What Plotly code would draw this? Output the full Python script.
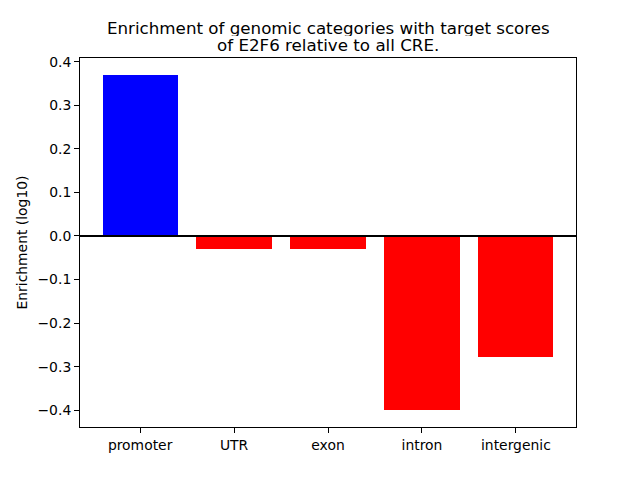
import plotly.graph_objects as go

categories = ["promoter", "UTR", "exon", "intron", "intergenic"]
values = [0.370, -0.029, -0.029, -0.400, -0.277]
colors = ["#0000ff", "#ff0000", "#ff0000", "#ff0000", "#ff0000"]
ytick_vals = [0.4, 0.3, 0.2, 0.1, 0.0, -0.1, -0.2, -0.3, -0.4]
ytick_text = ["0.4", "0.3", "0.2", "0.1", "0.0", "\u22120.1", "\u22120.2", "\u22120.3", "\u22120.4"]
title_lines = ["Enrichment of genomic categories with target scores", "of E2F6 relative to all CRE."]

fig = go.Figure()
fig.add_trace(go.Bar(x=list(range(len(categories))), y=values, marker=dict(color=colors, line=dict(width=0)),
                     width=0.8))
fig.add_hline(y=0, line=dict(color="black", width=2))

title_font = dict(family="DejaVu Sans", size=16.7, color="black")
for line, ypos in zip(title_lines, [1.0828, 1.0354]):
    fig.add_annotation(text=line, x=0.5, y=ypos, xref="paper", yref="paper",
                       xanchor="center", yanchor="middle", showarrow=False, font=title_font,
                       height=17, valign="middle", borderpad=0)

# page body has an 8px offset; margins compensate
font = dict(family="DejaVu Sans", size=13.9, color="black")
fig.update_layout(
    width=640, height=480,
    margin=dict(l=72, r=72, t=49.6, b=60.8, pad=0, autoexpand=False),
    plot_bgcolor="white", paper_bgcolor="white",
    font=font,
    showlegend=False,
    bargap=0,
    xaxis=dict(range=[-0.64, 4.64], tickvals=list(range(len(categories))), ticktext=categories,
               showgrid=False, zeroline=False, showline=True, linecolor="black", linewidth=1, mirror=True,
               ticks="outside", ticklen=5, tickcolor="black", tickfont=font, automargin=False),
    yaxis=dict(range=[-0.4385, 0.4085], tickvals=ytick_vals, ticktext=ytick_text,
               showgrid=False, zeroline=False, showline=True, linecolor="black", linewidth=1, mirror=True,
               ticks="outside", ticklen=5, tickcolor="black", tickfont=font, automargin=False,
               title=dict(text="Enrichment (log10)", font=font, standoff=6)),
)
fig.write_html("out.html")
